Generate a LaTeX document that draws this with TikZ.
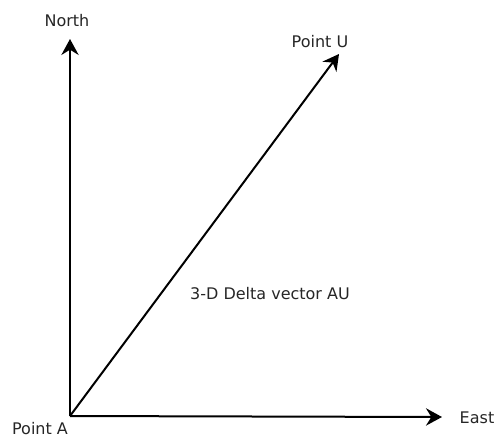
\documentclass[tikz,border=0pt]{standalone}
\usepackage{fontspec}
\setmainfont{DejaVu Sans}
\usepackage{tikz}
\usetikzlibrary{arrows.meta}

\begin{document}
\begin{tikzpicture}[
  x=0.75pt, y=-0.75pt, font=\fontsize{12}{14}\selectfont,
  lbl/.style={inner sep=0pt,text=black!85},
  ar/.style={-{Stealth[length=12pt,width=13pt,inset=4pt]},line width=1.5pt}
]
\useasboundingbox (0,0) rectangle (496,437);
\coordinate (A) at (70,416);
\coordinate (n) at (70,39);
\coordinate (e) at (442,417);
\coordinate (u) at (339,54);
\node[lbl] (north) at (67,21) {North};
\node[lbl] (ptU) at (320,42) {Point U};
\node[lbl] (east) at (477,418) {East};
\node[lbl] (ptA) at (40,429) {Point A};
\node[lbl] (delta) at (270,294) {3-D Delta vector AU};
\draw[ar](A)--(n);\draw[ar](A)--(e);\draw[ar](A)--(u);
\end{tikzpicture}
\end{document}
